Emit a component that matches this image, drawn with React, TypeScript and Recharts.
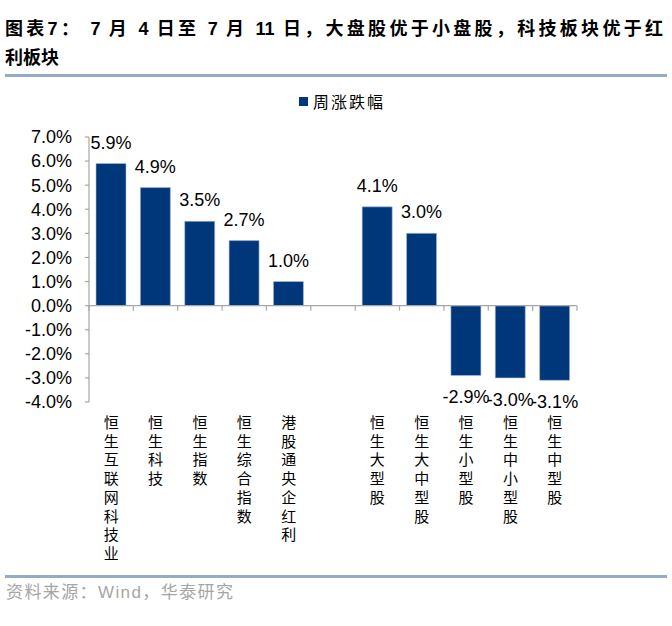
import React from 'react';
import { BarChart, Bar, XAxis, YAxis, LabelList, ReferenceLine, Legend } from 'recharts';

// Index names; the empty entry is the spacer between the two groups
const categories = [
  '恒生互联网科技业',
  '恒生科技',
  '恒生指数',
  '恒生综合指数',
  '港股通央企红利',
  '',
  '恒生大型股',
  '恒生大中型股',
  '恒生小型股',
  '恒生中小型股',
  '恒生中型股',
];
// Weekly change, %
const weeklyChange: (number | null)[] = [5.9, 4.9, 3.5, 2.7, 1.0, null, 4.1, 3.0, -2.9, -3.0, -3.1];
const yTicks = [-4, -3, -2, -1, 0, 1, 2, 3, 4, 5, 6, 7];
const seriesName = '周涨跌幅';
const titleLine1 = '图表7： 7 月 4 日至 7 月 11 日，大盘股优于小盘股，科技板块优于红';
const titleLine2 = '利板块';
const sourceNote = '资料来源：Wind，华泰研究';

const data = categories.map((name, i) => ({ name, value: weeklyChange[i] }));

const BAR_COLOR = '#00377A';
const AXIS_COLOR = '#A6A6A6';
const RULE_COLOR = '#95AAC6';
const LATIN = '"Liberation Sans", Arial, "Noto Sans CJK SC", sans-serif';
const CJK = '"Noto Sans CJK SC", sans-serif';

const pct = (v: number) => `${v.toFixed(1)}%`;

// Category names stacked one character per line
const VerticalTick = (props: any) => {
  const { x, y, payload } = props;
  const chars = Array.from(String(payload?.value ?? ''));
  return (
    <g>
      {chars.map((c, i) => (
        <text
          key={i}
          x={x}
          y={y + 26 + i * 18.7}
          textAnchor="middle"
          fontSize={15}
          fill="#000"
          fontFamily={CJK}
        >
          {c}
        </text>
      ))}
    </g>
  );
};

// Zero line with small downward ticks at each category boundary
const ZeroAxis = (props: any) => {
  const { x1, x2, y1 } = props;
  const n = categories.length;
  const step = (x2 - x1) / n;
  const ticks = Array.from({ length: n + 1 }, (_, i) => x1 + i * step);
  return (
    <g>
      <line x1={x1} x2={x2} y1={y1} y2={y1} stroke={AXIS_COLOR} strokeWidth={1.2} />
      {ticks.map((tx, i) => (
        <line key={i} x1={tx} x2={tx} y1={y1} y2={y1 + 5} stroke={AXIS_COLOR} strokeWidth={1.2} />
      ))}
    </g>
  );
};

const LegendBox = (props: any) => {
  const item = props.payload?.[0];
  return (
    <div style={{ display: 'flex', alignItems: 'center', whiteSpace: 'nowrap' }}>
      <span style={{ width: 9, height: 9, background: BAR_COLOR, display: 'inline-block', marginRight: 5 }} />
      <span style={{ fontFamily: CJK, fontSize: 16, letterSpacing: 2, color: '#000', lineHeight: '18px' }}>
        {item?.value ?? seriesName}
      </span>
    </div>
  );
};

export default function App() {
  return (
    <div
      style={{
        position: 'absolute',
        left: 0,
        top: 0,
        width: 672,
        height: 626,
        background: '#fff',
        overflow: 'hidden',
      }}
    >
      <div
        style={{
          position: 'absolute',
          left: 5,
          top: 15,
          width: 658,
          fontFamily: LATIN,
          fontWeight: 'bold',
          fontSize: 18,
          lineHeight: '29px',
          color: '#000',
        }}
      >
        <div style={{ textAlign: 'justify', textAlignLast: 'justify', whiteSpace: 'nowrap' as any }}>{titleLine1}</div>
        <div>{titleLine2}</div>
      </div>
      <div style={{ position: 'absolute', left: 5, top: 74, width: 662, height: 3, background: RULE_COLOR }} />

      <div style={{ position: 'absolute', left: 0, top: 0 }}>
        <BarChart
          width={672}
          height={575}
          data={data}
          margin={{ top: 137, right: 95, bottom: 0, left: 0 }}
        >
          <Legend
            verticalAlign="middle"
            align="center"
            content={<LegendBox />}
            wrapperStyle={{ top: 92, left: 299, width: 'auto' }}
          />
          <XAxis
            dataKey="name"
            axisLine={false}
            tickLine={false}
            tickSize={0}
            tickMargin={0}
            interval={0}
            height={173}
            tick={<VerticalTick />}
          />
          <YAxis
            type="number"
            domain={[-4, 7]}
            ticks={yTicks}
            interval={0}
            width={89}
            tickSize={4}
            tickMargin={13}
            tickFormatter={pct}
            axisLine={{ stroke: AXIS_COLOR, strokeWidth: 1.2 }}
            tickLine={{ stroke: AXIS_COLOR, strokeWidth: 1.2 }}
            tick={{ fontSize: 18, fill: '#000', fontFamily: LATIN }}
          />
          <Bar
            dataKey="value"
            name={seriesName}
            fill={BAR_COLOR}
            stroke="#A9BCD6"
            strokeWidth={0.6}
            barSize={30}
            isAnimationActive={false}
          >
            <LabelList
              dataKey="value"
              position="top"
              offset={15}
              formatter={(v: any) => (typeof v === 'number' ? pct(v) : '')}
              style={{ fontSize: 18, fill: '#000', fontFamily: LATIN }}
            />
          </Bar>
          <ReferenceLine y={0} shape={<ZeroAxis />} />
        </BarChart>
      </div>

      <div style={{ position: 'absolute', left: 5, top: 575, width: 662, height: 3, background: RULE_COLOR }} />
      <div
        style={{
          position: 'absolute',
          left: 6,
          top: 583,
          fontFamily: LATIN,
          fontSize: 17,
          letterSpacing: 1.4,
          lineHeight: '20px',
          color: '#A5A5A5',
          whiteSpace: 'nowrap',
        }}
      >
        {sourceNote}
      </div>
    </div>
  );
}
